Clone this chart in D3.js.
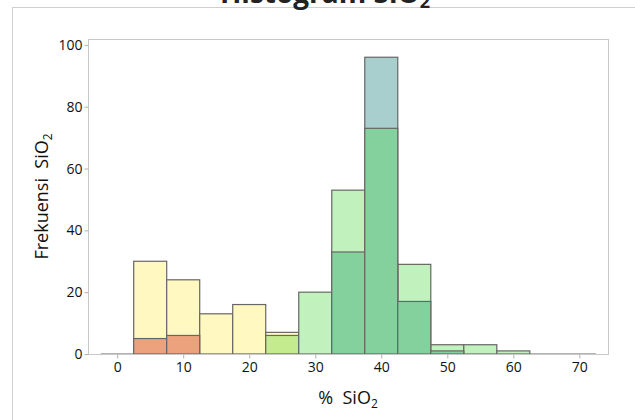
<!DOCTYPE html>
<html>
<head>
<meta charset="utf-8">
<script src="https://cdn.jsdelivr.net/npm/d3@7"></script>
<style>
  body { margin: 0; background: #fff; }
  text { font-family: "Open Sans", sans-serif; }
</style>
</head>
<body>
<div id="chart"></div>
<script>
// bin centres (bin width 5)
var binCenters = [0, 5, 10, 15, 20, 25, 30, 35, 40, 45, 50, 55, 60, 65, 70];
var binWidth = 5;

// counts per group, drawn back to front
var yellowCounts = [0, 30, 24, 13, 16, 7, 0, 0, 0, 0, 0, 0, 0, 0, 0];
var orangeCounts = [0, 5, 6, 0, 0, 0, 0, 0, 0, 0, 0, 0, 0, 0, 0];
var limeCounts   = [0, 0, 0, 0, 0, 6, 0, 0, 0, 0, 0, 0, 0, 0, 0];
var lightGreenCounts = [0, 0, 0, 0, 0, 0, 20, 53, 0, 29, 3, 3, 1, 0, 0];
var tealCounts   = [0, 0, 0, 0, 0, 0, 0, 0, 96, 0, 0, 0, 0, 0, 0];
var greenCounts  = [0, 0, 0, 0, 0, 0, 0, 33, 73, 17, 1, 0, 0, 0, 0];

var xTicks = [0, 10, 20, 30, 40, 50, 60, 70];
var yTicks = [0, 20, 40, 60, 80, 100];

var series = [
  { counts: yellowCounts, color: "#fff8c0" },
  { counts: orangeCounts, color: "#eda27e" },
  { counts: limeCounts, color: "#c4ec8f" },
  { counts: lightGreenCounts, color: "#c1f2bd" },
  { counts: tealCounts, color: "#a8cfce" },
  { counts: greenCounts, color: "#85d19d" }
];

var svgWidth = 635;
var svgHeight = 420;

var plot = { left: 88, right: 608, top: 39, bottom: 354 };

var svg = d3.select("#chart")
  .append("svg")
  .attr("width", svgWidth)
  .attr("height", svgHeight);

// outer frame
svg.append("rect")
  .attr("x", 12.5)
  .attr("y", 7.5)
  .attr("width", 700)
  .attr("height", 500)
  .attr("fill", "none")
  .attr("stroke", "#d0d0d0");

var xScale = d3.scaleLinear()
  .domain([-4.42, 74.34])
  .range([plot.left, plot.right]);

var yScale = d3.scaleLinear()
  .domain([0, 101.9])
  .range([plot.bottom, plot.top]);

// baseline over the full bin range (empty bins)
svg.append("line")
  .attr("x1", xScale(binCenters[0] - binWidth / 2))
  .attr("x2", xScale(binCenters[binCenters.length - 1] + binWidth / 2))
  .attr("y1", yScale(0))
  .attr("y2", yScale(0))
  .attr("stroke", "#666")
  .attr("stroke-width", 1);

// bars
series.forEach(function(s) {
  var rows = binCenters.map(function(c, i) { return { c: c, n: s.counts[i] }; })
    .filter(function(d) { return d.n > 0; });
  svg.append("g").selectAll("rect")
    .data(rows)
    .enter()
    .append("rect")
    .attr("x", d => xScale(d.c - binWidth / 2))
    .attr("width", d => xScale(d.c + binWidth / 2) - xScale(d.c - binWidth / 2))
    .attr("y", d => yScale(d.n))
    .attr("height", d => yScale(0) - yScale(d.n))
    .attr("fill", s.color)
    .attr("stroke", "#666")
    .attr("stroke-width", 1.2);
});

// plot frame
svg.append("rect")
  .attr("x", plot.left + 0.5)
  .attr("y", plot.top + 0.5)
  .attr("width", plot.right - plot.left)
  .attr("height", plot.bottom - plot.top)
  .attr("fill", "none")
  .attr("stroke", "#c8c8c8");

// axes
var bottomAxis = d3.axisBottom(xScale).tickValues(xTicks).tickSize(4).tickPadding(4);
var leftAxis = d3.axisLeft(yScale).tickValues(yTicks).tickSize(4).tickPadding(2);

var gx = svg.append("g")
  .attr("transform", `translate(0, ${plot.bottom + 0.5})`)
  .call(bottomAxis);
var gy = svg.append("g")
  .attr("transform", `translate(${plot.left + 0.5}, 0)`)
  .call(leftAxis);

[gx, gy].forEach(function(g) {
  g.select(".domain").remove();
  g.selectAll(".tick line").attr("stroke", "#b0b0b0");
  g.selectAll(".tick text")
    .attr("font-family", "Open Sans, sans-serif")
    .attr("font-size", 14)
    .attr("fill", "#111");
});

// title (cut off at the top edge, as in the source image)
var title = svg.append("text")
  .attr("x", 325)
  .attr("y", 3)
  .attr("text-anchor", "middle")
  .attr("font-family", "Liberation Sans, Arial, sans-serif")
  .attr("font-weight", "bold")
  .attr("font-size", 28)
  .attr("fill", "#222");
title.append("tspan").text("Histogram SiO");
title.append("tspan").attr("font-size", 18).attr("dy", 5).text("2");

// x axis label
var xLabel = svg.append("text")
  .attr("x", 348)
  .attr("y", 404)
  .attr("text-anchor", "middle")
  .attr("font-size", 18)
  .attr("fill", "#111");
xLabel.append("tspan").text("%\u00a0\u00a0SiO");
xLabel.append("tspan").attr("font-size", 12).attr("dy", 4).text("2");

// y axis label
var yLabel = svg.append("text")
  .attr("transform", `translate(48, ${(plot.top + plot.bottom) / 2}) rotate(-90)`)
  .attr("text-anchor", "middle")
  .attr("font-size", 18)
  .attr("fill", "#111");
yLabel.append("tspan").text("Frekuensi\u00a0\u00a0SiO");
yLabel.append("tspan").attr("font-size", 12).attr("dy", 4).text("2");
</script>
</body>
</html>
